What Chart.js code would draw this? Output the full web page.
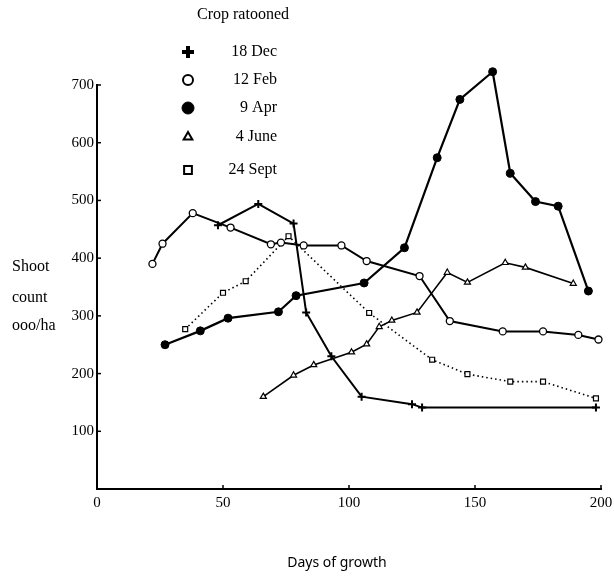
<!DOCTYPE html>
<html>
<head>
<meta charset="utf-8">
<script src="https://cdn.jsdelivr.net/npm/chart.js"></script>
<style>
  html, body { margin: 0; padding: 0; background: #fff; }
  #wrap { width: 614px; height: 581px; position: relative; }
</style>
</head>
<body>
<div id="wrap"><canvas id="shoots" width="614" height="581"></canvas></div>
<script>
// days of growth / shoot count ('000 per ha)
const dec18Days = [48, 64, 78, 83, 93, 105, 125, 129, 198];
const dec18Shoots = [457, 494, 460, 306, 230, 160, 147, 141, 141];

const feb12Days = [22, 26, 38, 53, 69, 73, 82, 97, 107, 128, 140, 161, 177, 191, 199];
const feb12Shoots = [390, 425, 478, 453, 424, 427, 422, 422, 395, 369, 291, 273, 273, 267, 259];

const apr9Days = [27, 41, 52, 72, 79, 106, 122, 135, 144, 157, 164, 174, 183, 195];
const apr9Shoots = [250, 274, 296, 307, 335, 357, 418, 574, 675, 723, 547, 498, 490, 343];

const june4Days = [66, 78, 86, 101, 107, 112, 117, 127, 139, 147, 162, 170, 189];
const june4Shoots = [160, 197, 215, 237, 251, 281, 292, 306, 375, 358, 392, 384, 356];

const sept24Days = [35, 50, 59, 76, 108, 133, 147, 164, 177, 198];
const sept24Shoots = [277, 340, 360, 438, 305, 224, 199, 186, 186, 157];

const seriesNames = ['18 Dec', '12 Feb', '9 Apr', '4 June', '24 Sept'];
const xTicks = [0, 50, 100, 150, 200];
const yTicks = [100, 200, 300, 400, 500, 600, 700];
const yTop = 730; // room above the 700 tick for the April peak

const serif = '"Liberation Serif", "DejaVu Serif", serif';

function pts(xs, ys) {
    return xs.map((x, i) => ({ x: x, y: ys[i] }));
}

const styles = [
    { pointStyle: 'cross', radius: 4, fill: '#000', width: 2, line: 2, dash: [] },
    { pointStyle: 'circle', radius: 3.5, fill: '#fff', width: 1.3, line: 2, dash: [] },
    { pointStyle: 'circle', radius: 4, fill: '#000', width: 1, line: 2.2, dash: [] },
    { pointStyle: 'triangle', radius: 3.5, fill: '#fff', width: 1.2, line: 1.6, dash: [] },
    { pointStyle: 'rect', radius: 3.5, fill: '#fff', width: 1.2, line: 1.6, dash: [1.5, 3] },
];

const allSeries = [
    pts(dec18Days, dec18Shoots),
    pts(feb12Days, feb12Shoots),
    pts(apr9Days, apr9Shoots),
    pts(june4Days, june4Shoots),
    pts(sept24Days, sept24Shoots),
];

const datasets = allSeries.map((data, i) => ({
    label: seriesNames[i],
    data: data,
    showLine: true,
    tension: 0,
    clip: false,
    borderColor: '#000',
    borderWidth: styles[i].line,
    borderDash: styles[i].dash,
    pointStyle: styles[i].pointStyle,
    pointRadius: styles[i].radius,
    pointBackgroundColor: styles[i].fill,
    pointBorderColor: '#000',
    pointBorderWidth: styles[i].width,
}));

// y axis line up to 700 only, inward tick marks
const axes = {
    id: 'axes',
    beforeDatasetsDraw(chart) {
        const ctx = chart.ctx;
        const xs = chart.scales.x, ys = chart.scales.y;
        const left = chart.chartArea.left, bottom = chart.chartArea.bottom;
        ctx.save();
        ctx.strokeStyle = '#000';
        ctx.lineWidth = 2;
        ctx.beginPath();
        ctx.moveTo(left, bottom + 1);
        ctx.lineTo(left, ys.getPixelForValue(700) - 1);
        ctx.stroke();
        ctx.lineWidth = 1.5;
        yTicks.forEach(v => {
            const y = ys.getPixelForValue(v);
            ctx.beginPath();
            ctx.moveTo(left, y);
            ctx.lineTo(left + 4, y);
            ctx.stroke();
        });
        xTicks.slice(1).forEach(v => {
            const x = xs.getPixelForValue(v);
            ctx.beginPath();
            ctx.moveTo(x, bottom);
            ctx.lineTo(x, bottom - 4);
            ctx.stroke();
        });
        ctx.restore();
    }
};

// legend, axis titles
const annotate = {
    id: 'annotate',
    afterDraw(chart) {
        const ctx = chart.ctx;
        ctx.save();
        ctx.fillStyle = '#000';
        ctx.font = '16px ' + serif;
        ctx.textBaseline = 'middle';
        ctx.textAlign = 'center';
        ctx.fillText('Crop ratooned', 243, 15);

        const rows = [52, 80, 108, 137, 170];
        const big = [
            { pointStyle: 'cross', radius: 6, fill: '#000', width: 4 },
            { pointStyle: 'circle', radius: 5, fill: '#fff', width: 2 },
            { pointStyle: 'circle', radius: 6, fill: '#000', width: 1 },
            { pointStyle: 'triangle', radius: 5, fill: '#fff', width: 2 },
            { pointStyle: 'rect', radius: 5.5, fill: '#fff', width: 2 },
        ];
        seriesNames.forEach((name, i) => {
            const s = big[i];
            ctx.fillStyle = s.fill;
            ctx.strokeStyle = '#000';
            ctx.lineWidth = s.width;
            Chart.helpers.drawPoint(ctx, {
                pointStyle: s.pointStyle, radius: s.radius, rotation: 0, borderWidth: s.width
            }, 188, rows[i]);
            ctx.fillStyle = '#000';
            ctx.textAlign = 'right';
            ctx.fillText(name, 277, rows[i]);
        });

        ctx.textAlign = 'left';
        ctx.fillText('Shoot', 12, 267);
        ctx.fillText('count', 12, 298);
        ctx.fillText('ooo/ha', 12, 326);

        ctx.textAlign = 'center';
        ctx.font = '14px "Noto Sans", sans-serif';
        ctx.fillText('Days of growth', 337, 563);
        ctx.restore();
    }
};

new Chart(document.getElementById('shoots'), {
    type: 'scatter',
    data: { datasets: datasets },
    options: {
        responsive: false,
        animation: false,
        layout: { padding: { top: 85 - (yTop - 700) * 404 / 700, right: 13, left: 0, bottom: 0 } },
        plugins: {
            legend: { display: false },
            tooltip: { enabled: false },
        },
        scales: {
            x: {
                type: 'linear',
                min: 0,
                max: 200,
                afterBuildTicks: (scale) => { scale.ticks = xTicks.map(v => ({ value: v })); },
                afterFit: (scale) => {
                    scale.height = 92;
                    scale.paddingLeft = 0;
                    scale.paddingRight = 0;
                },
                border: { color: '#000', width: 2 },
                grid: { display: false, drawTicks: false },
                ticks: { color: '#000', padding: 5, font: { family: serif, size: 15 } },
            },
            y: {
                type: 'linear',
                min: 0,
                max: yTop,
                afterBuildTicks: (scale) => { scale.ticks = yTicks.map(v => ({ value: v })); },
                afterFit: (scale) => {
                    scale.width = 97;
                    scale.paddingTop = 0;
                    scale.paddingBottom = 0;
                },
                border: { display: false },
                grid: { display: false, drawTicks: false },
                ticks: { color: '#000', padding: 3, font: { family: serif, size: 15 } },
            },
        },
    },
    plugins: [axes, annotate],
});
</script>
</body>
</html>
